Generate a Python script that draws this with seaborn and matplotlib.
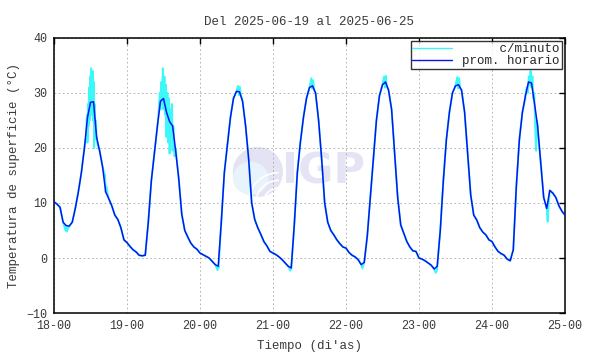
import numpy as np
import pandas as pd
import matplotlib
matplotlib.use("Agg")
import matplotlib.pyplot as plt
import seaborn as sns
from matplotlib.patches import Ellipse, Arc

# hourly means (prom. horario), one list of 24 values per day
day_starts = [18, 19, 20, 21, 22, 23, 24]
hourly = {
    18: [10.2, 9.8, 9.2, 6.5, 5.9, 5.8, 6.5, 9.0, 12.0, 15.5, 20.0, 25.5,
         28.3, 28.4, 22.0, 19.5, 16.5, 12.0, 10.8, 9.5, 7.8, 7.0, 5.5, 3.3],
    19: [2.8, 2.1, 1.5, 1.1, 0.5, 0.4, 0.5, 6.5, 14.0, 19.0, 24.0, 28.5,
         29.0, 26.5, 24.8, 24.0, 19.5, 14.5, 8.0, 5.0, 3.8, 2.7, 2.0, 1.6],
    20: [0.9, 0.6, 0.3, 0.0, -0.6, -1.2, -1.5, 6.5, 15.5, 20.5, 25.5, 29.0,
         30.3, 30.2, 28.5, 24.0, 18.0, 10.0, 7.0, 5.5, 4.3, 3.0, 2.2, 1.2],
    21: [0.9, 0.6, 0.2, -0.3, -0.9, -1.5, -1.8, 6.0, 15.5, 21.0, 25.5, 29.0,
         31.0, 31.3, 30.0, 25.0, 18.0, 10.0, 6.5, 5.0, 4.2, 3.3, 2.6, 2.0],
    22: [1.8, 1.0, 0.5, 0.2, -0.3, -1.2, -0.8, 4.0, 11.0, 18.0, 25.0, 29.5,
         31.5, 32.0, 30.5, 27.0, 19.0, 11.0, 6.0, 4.5, 3.0, 2.0, 1.3, 1.2],
    23: [0.0, -0.2, -0.5, -0.9, -1.3, -2.0, -1.5, 5.0, 14.0, 21.5, 26.5, 30.0,
         31.3, 31.5, 30.5, 26.5, 19.0, 11.5, 7.8, 6.9, 5.5, 4.7, 4.2, 3.3],
    24: [3.0, 2.0, 1.2, 0.8, 0.5, -0.2, -0.5, 1.5, 13.0, 21.5, 26.5, 29.5,
         32.0, 31.8, 28.0, 24.0, 17.5, 11.0, 9.0, 12.3, 11.8, 11.0, 9.5, 8.5],
}
last_value = 7.8  # 25-00

# per-minute excursions (c/minuto) that stand out from the hourly curve: (hour, value)
spike_hours = {
    18: [3.8, 4.2, 10.6, 10.8, 11.0, 11.2, 11.4, 11.5, 11.7, 11.9, 12.0, 12.2, 12.3, 12.5,
         12.6, 12.8, 12.9, 13.1, 13.2, 13.4, 13.6, 13.8, 14.0, 14.3, 16.8, 17.2],
    19: [10.2, 10.5, 10.8, 11.0, 11.3, 11.5, 11.8, 12.0, 12.3, 12.5, 12.8, 13.0,
         13.3, 13.5, 13.8, 14.0, 14.3, 14.5, 14.8, 15.0, 15.3, 15.6, 16.0],
    20: [5.8, 6.1, 12.5, 12.8, 13.1, 13.4],
    21: [5.7, 6.0, 12.6, 12.9, 13.2, 13.5],
    22: [5.4, 12.5, 12.8, 13.1, 13.4],
    23: [5.5, 5.9, 12.6, 12.9, 13.2, 13.5],
    24: [11.0, 11.4, 11.8, 12.1, 12.4, 12.7, 13.0, 13.3, 13.6, 13.9, 14.2, 14.5,
         14.8, 15.1, 18.3, 18.6],
}
spike_values = {
    18: [5.0, 4.8, 22, 26, 21, 28, 24, 31, 25, 33, 27, 34.5, 26, 33,
         27.5, 34, 25, 32, 20, 28, 22, 25, 21.5, 20.5, 15.0, 13.0],
    19: [25, 27.5, 30, 27, 32, 28, 34.5, 27, 33, 26, 31.5, 22,
         30, 21, 29, 19, 27, 22, 28, 19.5, 24, 18.5, 20],
    20: [-2.2, -1.8, 31.3, 29.6, 31.1, 29.8],
    21: [-2.3, -2.0, 32.7, 30.8, 32.3, 30.5],
    22: [-1.9, 33.0, 31.0, 33.1, 31.2],
    23: [-2.7, -2.3, 32.9, 30.8, 32.7, 30.9],
    24: [29, 31, 30, 33, 31.5, 34, 31, 33, 29, 30, 24, 19.5,
         25, 23, 6.6, 9.5],
}

x_ticks = [18, 19, 20, 21, 22, 23, 24, 25]
x_labels = ["18-00", "19-00", "20-00", "21-00", "22-00", "23-00", "24-00", "25-00"]
y_ticks = [-10, 0, 10, 20, 30, 40]

# build tables
t_h, v_h = [], []
for d in day_starts:
    for h, v in enumerate(hourly[d]):
        t_h.append(d + h / 24)
        v_h.append(v)
t_h.append(25.0)
v_h.append(last_value)
df_h = pd.DataFrame({"t": t_h, "temp": v_h})

t_m, v_m = list(t_h), list(v_h)
for d in day_starts:
    for h, v in zip(spike_hours[d], spike_values[d]):
        t_m.append(d + h / 24)
        v_m.append(v)
df_m = pd.DataFrame({"t": t_m, "temp": v_m}).sort_values("t")

sns.set_style("white")
plt.rcParams["font.family"] = ["Liberation Mono", "DejaVu Sans Mono"]
txt = "#3a3a3a"

fig = plt.figure(figsize=(5.9, 3.54), dpi=100)
ax = fig.add_axes([0.0915, 0.1158, 0.8661, 0.7769])

# watermark
ax.add_patch(Ellipse((0.399, 0.513), 0.098, 0.182, transform=ax.transAxes,
                     facecolor="#e3e3f3", edgecolor="none", zorder=0))
ax.add_patch(Ellipse((0.385, 0.49), 0.07, 0.12, transform=ax.transAxes,
                     facecolor="#e8f3fc", edgecolor="none", zorder=0))
for w, hgt in [(0.06, 0.11), (0.09, 0.165), (0.12, 0.22)]:
    ax.add_patch(Arc((0.44, 0.40), w, hgt, theta1=90, theta2=180, transform=ax.transAxes,
                     color="white", lw=1.2, zorder=0))
ax.text(0.527, 0.513, "IGP", transform=ax.transAxes, ha="center", va="center",
        fontsize=31, fontweight="bold", family="DejaVu Sans", color="#e4e4f4", zorder=0)

sns.lineplot(data=df_m, x="t", y="temp", ax=ax, color="#3cf8f8", lw=1.4,
             estimator=None, sort=False, label="     c/minuto", zorder=2)
sns.lineplot(data=df_h, x="t", y="temp", ax=ax, color="#0a14f0", lw=1.1,
             estimator=None, sort=False, label="prom. horario", zorder=3)

ax.set_xlim(18, 25)
ax.set_ylim(-10, 40)
ax.set_xticks(x_ticks)
ax.set_xticklabels(x_labels)
ax.set_yticks(y_ticks)
ax.grid(True, color="#a8a8a8", lw=0.6, ls=(0, (2, 3)))
ax.tick_params(direction="in", top=True, right=True, length=4, width=1,
               colors="black", labelcolor=txt, labelsize=8.5, pad=5)
for s in ax.spines.values():
    s.set_color("black")
    s.set_linewidth(1.1)

ax.set_title("Del 2025-06-19 al 2025-06-25", fontsize=9, color=txt, pad=9.5)
ax.set_xlabel("Tiempo (di'as)", fontsize=9, color=txt, labelpad=6)
ax.set_ylabel("Temperatura de superficie (°C)", fontsize=9, color=txt, labelpad=4)

leg = ax.legend(loc="upper right", fontsize=9, frameon=True, fancybox=False,
                handlelength=3.2, borderpad=0.15, labelspacing=0.0,
                borderaxespad=0.25, handletextpad=0.8)
leg.get_frame().set_edgecolor("black")
leg.get_frame().set_linewidth(1.0)
for line in leg.get_lines():
    line.set_linewidth(1.0)

fig.savefig("out.png", dpi=100)
